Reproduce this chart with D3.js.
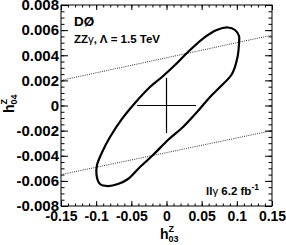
<!DOCTYPE html>
<html>
<head>
<meta charset="utf-8">
<script src="https://cdn.jsdelivr.net/npm/d3@7"></script>
<style>
  body { margin: 0; background: #fff; }
  svg { display: block; font-family: "Liberation Sans", Arial, sans-serif; font-weight: bold; }
</style>
</head>
<body>
<svg id="chart" width="286" height="245"></svg>
<script>
// 68% C.L. contour in (h03Z, h04Z)
const contourX = [0.1031, 0.1010, 0.0931, 0.0775, 0.0619, 0.0434, 0.0235, 0.0021, -0.0192, -0.0377,
    -0.0547, -0.0690, -0.0832, -0.0946, -0.0995, -0.0988, -0.0921, -0.0803, -0.0633, -0.0448,
    -0.0235, -0.0064, 0.0121, 0.0287, 0.0519, 0.0714, 0.0874, 0.0974, 0.1031];
const contourY = [0.00498, 0.00386, 0.00251, 0.00155, 0.00068, -0.00052, -0.00171, -0.00275, -0.00394, -0.00490,
    -0.00585, -0.00625, -0.00641, -0.00625, -0.00553, -0.00474, -0.00378, -0.00251, -0.00107, 0.00020,
    0.00147, 0.00227, 0.00322, 0.00416, 0.00533, 0.00601, 0.00621, 0.00601, 0.00553];

// unitarity limit lines (dotted)
const upperLimit = [[-0.15, 0.0020], [0.15, 0.0056]];
const lowerLimit = [[-0.15, -0.0055], [0.15, -0.0020]];

// one-dimensional limits shown as the cross
const crossX = [-0.042, 0.042];
const crossY = [-0.0022, 0.0022];

const xTicks = [-0.15, -0.1, -0.05, 0, 0.05, 0.1, 0.15];
const xTickLabels = ['-0.15', '-0.1', '-0.05', '0', '0.05', '0.1', '0.15'];
const yTicks = [-0.008, -0.006, -0.004, -0.002, 0, 0.002, 0.004, 0.006, 0.008];
const yTickLabels = ['-0.008', '-0.006', '-0.004', '-0.002', '0', '0.002', '0.004', '0.006', '0.008'];

const margin = {top: 5, right: 14, bottom: 39, left: 61};
const width = 286 - margin.left - margin.right;
const height = 245 - margin.top - margin.bottom;

const svg = d3.select('#chart');
const g = svg.append('g').attr('transform', `translate(${margin.left},${margin.top})`);

const x = d3.scaleLinear().domain([-0.15, 0.15]).range([0, width]);
const y = d3.scaleLinear().domain([-0.008, 0.008]).range([height, 0]);

const xMinor = d3.range(-15, 16).map(d => d / 100);
const yMinor = d3.range(-16, 17).map(d => d * 0.0005);

function drawAxis(axis, transform) {
    const a = g.append('g').attr('transform', transform).call(axis);
    a.select('.domain').remove();
    a.selectAll('line').attr('stroke', '#000');
    a.selectAll('text').attr('fill', '#000');
    return a;
}

// minor ticks on all four sides
drawAxis(d3.axisBottom(x).tickValues(xMinor).tickSize(-2.5).tickFormat(''), `translate(0,${height})`);
drawAxis(d3.axisTop(x).tickValues(xMinor).tickSize(-2.5).tickFormat(''), 'translate(0,0)');
drawAxis(d3.axisLeft(y).tickValues(yMinor).tickSize(-3.5).tickFormat(''), 'translate(0,0)');
drawAxis(d3.axisRight(y).tickValues(yMinor).tickSize(-3.5).tickFormat(''), `translate(${width},0)`);

// major ticks and labels
const xAx = drawAxis(d3.axisBottom(x).tickValues(xTicks).tickSize(-5).tickPadding(5)
    .tickFormat((d, i) => xTickLabels[i]), `translate(0,${height})`);
xAx.selectAll('text').style('font-size', '14px').style('font-family', null);
drawAxis(d3.axisTop(x).tickValues(xTicks).tickSize(-5).tickFormat(''), 'translate(0,0)');
const yAx = drawAxis(d3.axisLeft(y).tickValues(yTicks).tickSize(-7).tickPadding(2)
    .tickFormat((d, i) => yTickLabels[i]), 'translate(0,0)');
yAx.selectAll('text').style('font-size', '15px').style('font-family', null);
drawAxis(d3.axisRight(y).tickValues(yTicks).tickSize(-7).tickFormat(''), `translate(${width},0)`);

// frame
g.append('rect')
    .attr('width', width)
    .attr('height', height)
    .attr('fill', 'none')
    .attr('stroke', '#000')
    .attr('stroke-width', 1);

// dotted limit lines
const line = d3.line().x(d => x(d[0])).y(d => y(d[1]));
[upperLimit, lowerLimit].forEach(l => {
    g.append('path')
        .attr('d', line(l))
        .attr('fill', 'none')
        .attr('stroke', '#333')
        .attr('stroke-width', 1)
        .attr('stroke-dasharray', '1,1.2');
});

// cross
g.append('line')
    .attr('x1', x(crossX[0])).attr('x2', x(crossX[1]))
    .attr('y1', y(0)).attr('y2', y(0))
    .attr('stroke', '#000').attr('stroke-width', 1.2);
g.append('line')
    .attr('x1', x(0)).attr('x2', x(0))
    .attr('y1', y(crossY[0])).attr('y2', y(crossY[1]))
    .attr('stroke', '#000').attr('stroke-width', 1.2);

// contour
const contour = contourX.map((d, i) => [d, contourY[i]]);
g.append('path')
    .attr('d', d3.line().x(d => x(d[0])).y(d => y(d[1])).curve(d3.curveCatmullRomClosed.alpha(0.5))(contour))
    .attr('fill', 'none')
    .attr('stroke', '#000')
    .attr('stroke-width', 2.2);

// labels inside the frame
svg.append('text').attr('x', 74).attr('y', 26).style('font-size', '13.5px').text('DØ');
const t1 = svg.append('text').attr('x', 74).attr('y', 43).style('font-size', '11.5px');
t1.append('tspan').text('ZZ');
t1.append('tspan').attr('font-weight', 'normal').text('γ');
t1.append('tspan').text(', Λ = 1.5 TeV');

const t2 = svg.append('text').attr('x', 206).attr('y', 195).style('font-size', '11.5px');
t2.append('tspan').text('ll');
t2.append('tspan').attr('font-weight', 'normal').text('γ');
t2.append('tspan').text(' 6.2 fb');
t2.append('tspan').attr('dy', -5).style('font-size', '8.5px').text('-1');

// axis titles
const xt = svg.append('g').attr('transform', 'translate(160,239)');
xt.append('text').style('font-size', '14px').text('h');
xt.append('text').attr('x', 8.5).attr('y', -7).style('font-size', '9px').text('Z');
xt.append('text').attr('x', 8.5).attr('y', 3).style('font-size', '9px').text('03');

const yt = svg.append('g').attr('transform', 'translate(14,113) rotate(-90)');
yt.append('text').style('font-size', '14px').text('h');
yt.append('text').attr('x', 8.5).attr('y', -7).style('font-size', '9px').text('Z');
yt.append('text').attr('x', 8.5).attr('y', 3).style('font-size', '9px').text('04');
</script>
</body>
</html>
